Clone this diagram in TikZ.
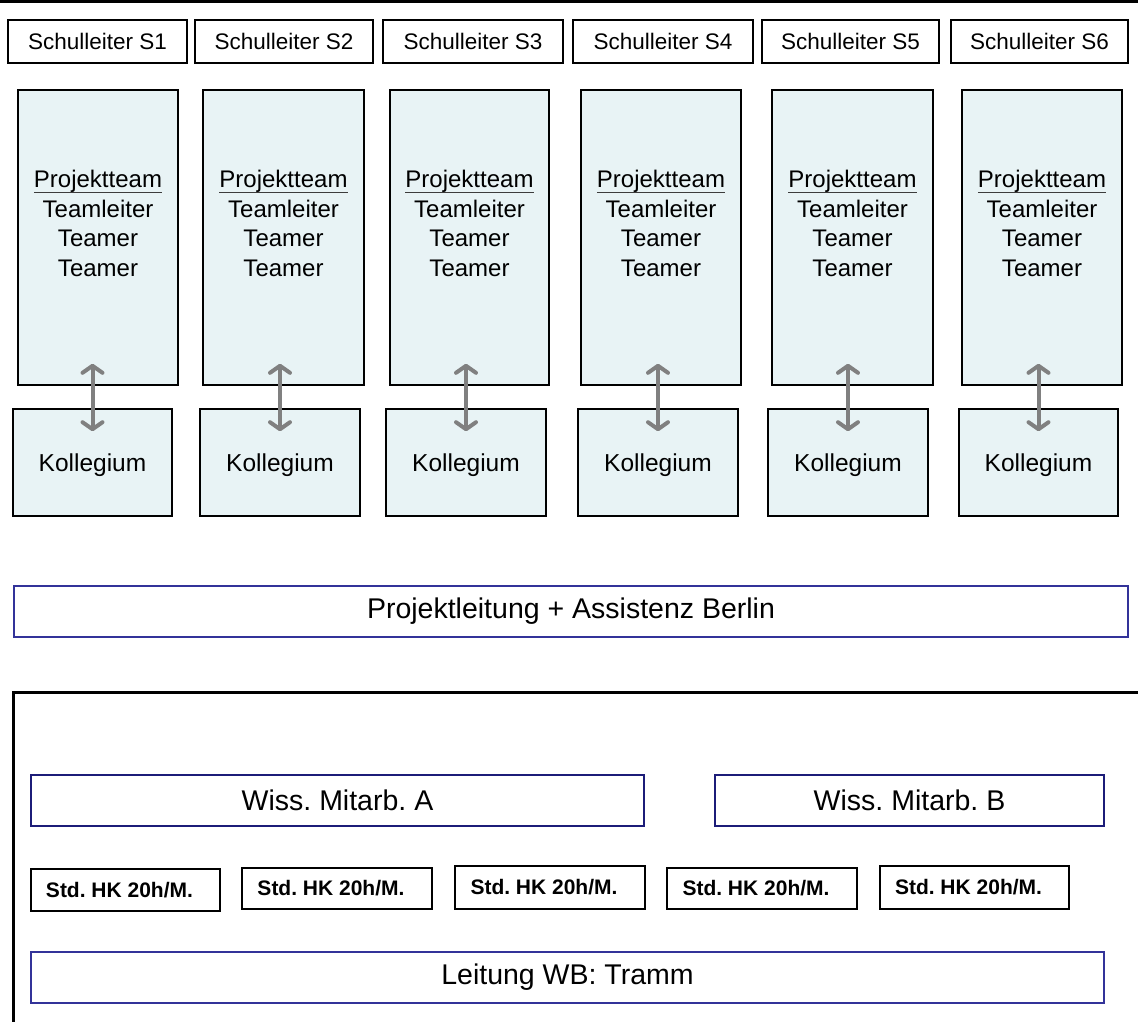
\documentclass[tikz,border=0pt]{standalone}
\usepackage{fontspec}
\setmainfont{Liberation Sans}
\usetikzlibrary{arrows.meta}
\frenchspacing

\definecolor{panel}{HTML}{E8F3F5}
\definecolor{frameblue}{RGB}{51,51,153}
\definecolor{navyline}{RGB}{28,28,120}
\definecolor{linkgray}{RGB}{128,128,128}

% underlined word with the rule set just below the descenders
\newcommand\ulword[1]{\setbox0\hbox{#1}\rlap{\color[RGB]{60,60,60}\vrule height -4.3pt depth 5.5pt width \wd0}\box0}

\tikzset{
  % a rectangle given by its left, right, top and bottom edges
  span/.style args={#1/#2/#3/#4}{rectangle, inner sep=0pt,
    minimum width={#2-#1}, minimum height={#4-#3}},
  headbox/.style={draw=black, line width=1.6pt,
    font=\fontsize{22.5}{27}\selectfont},
  teambox/.style={draw=black, line width=1.6pt, fill=panel},
  teamtext/.style={anchor=north, align=center, inner sep=0pt,
    font=\fontsize{24}{29.5}\selectfont},
  staffbox/.style={draw=black, line width=1.6pt, fill=panel, text depth=0pt,
    font=\fontsize{24.5}{29}\selectfont},
  leadbox/.style={draw=frameblue, line width=1.6pt,
    font=\fontsize{28.5}{34}\selectfont},
  wissbox/.style={draw=navyline, line width=1.6pt,
    font=\fontsize{28.5}{34}\selectfont},
  hkbox/.style={draw=black, line width=1.8pt,
    font=\fontsize{21}{25}\selectfont\bfseries},
  link/.style={draw=linkgray, line width=4pt,
    {Straight Barb[length=7pt,width=20pt,round]}-{Straight Barb[length=7pt,width=20pt,round]}},
  rulerline/.style={line width=3pt}
}

\begin{document}
\begin{tikzpicture}[x=1pt,y=-1pt]
\useasboundingbox (0,0) rectangle (1138,1021);

% rule across the top
\draw[rulerline] (0,1.5) -- (1138,1.5);

% school heads
\foreach \i/\a/\b in {1/8/187,2/195/373,3/383/563,4/573/753,5/762/939,6/951/1128}
  \node[headbox, span=\a/\b/20/63] (S\i) at ({(\a+\b)/2},41.5) {Schulleiter S\i};

% project teams
\foreach \i/\a/\b in {1/18/178,2/203/364,3/390/549,4/581/741,5/772/933,6/962/1122}{
  \node[teambox, span=\a/\b/90/385] (P\i) at ({(\a+\b)/2},237.5) {};
  \node[teamtext] (T\i) at ([yshift=-81pt]P\i.north)
    {\ulword{Projektteam}\\Teamleiter\\Teamer\\Teamer};
}

% staff rooms
\foreach \i/\a/\b in {1/13/172,2/200/360,3/386/546,4/578/738,5/768/928,6/959/1118}
  \node[staffbox, span=\a/\b/409/516] (K\i) at ({(\a+\b)/2},462.5) {Kollegium};

% links between each team and its staff room
\foreach \i in {1,...,6}
  \draw[link] ([yshift=22pt]K\i.north |- P\i.south) -- ([yshift=-23pt]K\i.north);

% project management
\node[leadbox, span=14/1128/586/637] (PL) at (571,611.5) {Projektleitung + Assistenz Berlin};

% frame of the lower block
\draw[rulerline] (1138,692) -- (13,692) -- (13,1022);

% research staff
\node[wissbox, span=31/644/775/826] (WA) at (337.5,800.5) {Wiss. Mitarb. A};
\node[wissbox, span=715/1104/775/826] (WB) at (909.5,800.5) {Wiss. Mitarb. B};

% student assistants
\foreach \i/\a/\b/\t/\u in {1/31/220/869/911,2/242/432/868/909,3/455/645/866/909,4/667/857/868/909,5/880/1069/866/909}
  \node[hkbox, span=\a/\b/\t/\u] (H\i) at ({(\a+\b)/2},{(\t+\u)/2}) {Std. HK 20h/M.\kern12pt};

% head of the unit
\node[leadbox, span=31/1104/952/1003] (LW) at (567.5,977.5) {Leitung WB: Tramm};
\end{tikzpicture}
\end{document}
